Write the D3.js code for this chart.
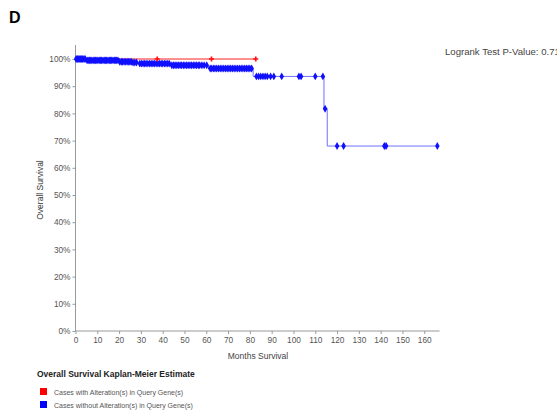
<!DOCTYPE html>
<html>
<head>
<meta charset="utf-8">
<script src="https://cdn.jsdelivr.net/npm/d3@7"></script>
<style>
  body { margin: 0; background: #fff; overflow: hidden; }
  svg { font-family: "Liberation Sans", Arial, sans-serif; }
</style>
</head>
<body>
<div id="chart"></div>
<script>
// survival steps (months, survival fraction)
const blueTimes = [0, 5, 20, 26, 29, 43.5, 61, 81.5, 114, 115.5];
const blueSurv  = [1.0, 0.995, 0.99, 0.987, 0.983, 0.977, 0.965, 0.936, 0.817, 0.68];
const blueCensor = [0.3, 0.8, 1.2, 1.7, 2.2, 2.8, 3.3, 3.9, 4.4, 5.3, 5.8, 6.4, 7, 7.5, 8.1, 8.6,
  9.2, 9.8, 10.3, 10.9, 11.5, 12, 12.6, 13.2, 13.8, 14.3, 14.9, 15.5, 16, 16.6, 17.2, 17.8, 18.3,
  18.9, 19.5, 20.3, 21, 21.6, 22.3, 23, 23.7, 24.4, 25, 25.6, 26.4, 27.2, 28, 29.5, 30.2, 31,
  31.7, 32.4, 33.2, 34, 34.7, 35.5, 36.2, 37, 37.8, 38.5, 39.3, 40, 40.8, 41.5, 42.3, 43,
  44.2, 45, 45.7, 46.5, 47.2, 48, 48.7, 49.5, 50.2, 51, 51.7, 52.5, 53.2, 54, 54.8, 55.5,
  56.3, 57, 58, 59, 60.2, 61.8, 62.5, 63.3, 64, 64.8, 65.6, 66.4, 67.2, 68, 68.8, 69.6,
  70.4, 71.2, 72, 72.8, 73.6, 74.4, 75.2, 76, 76.8, 77.6, 78.4, 79.2, 80, 80.8,
  83, 84, 85, 86, 87, 88, 89.5, 91, 94.6, 102.5, 103.5, 110, 113.5, 114.5, 120, 123, 141.7, 142.5, 166];
const redTimes = [0];
const redSurv = [1.0];
const redEnd = 82.7;
const redCensor = [37.5, 62.4, 82.7];

const xTicks = d3.range(0, 161, 10);
const yTicks = d3.range(0, 1.01, 0.1);

const W = 557, H = 412;
const svg = d3.select("#chart").append("svg").attr("width", W).attr("height", H);

const x = d3.scaleLinear().domain([0, 167]).range([75.5, 439.5]);
const y = d3.scaleLinear().domain([0, 1]).range([331, 59]);

function survAt(times, surv, t) {
  let s = surv[0];
  for (let i = 0; i < times.length; i++) if (times[i] <= t) s = surv[i];
  return s;
}

function stepPoints(times, surv, end) {
  const pts = [];
  for (let i = 0; i < times.length; i++) {
    if (i > 0) pts.push([times[i], surv[i - 1]]);
    pts.push([times[i], surv[i]]);
  }
  pts.push([end, surv[surv.length - 1]]);
  return pts;
}

const line = d3.line().x(d => x(d[0])).y(d => y(d[1]));

// axes
const gx = svg.append("g").attr("transform", "translate(0,331)")
  .call(d3.axisBottom(x).tickValues(xTicks).tickSize(3).tickPadding(3));
const gy = svg.append("g").attr("transform", "translate(75.5,0)")
  .call(d3.axisLeft(y).tickValues(yTicks).tickSize(3).tickPadding(2).tickFormat(d => Math.round(d * 100) + "%"));
gy.select(".domain").attr("d", "M0,45V331");
gx.select(".domain").attr("d", "M75.5,0H439.5");
[gx, gy].forEach(g => {
  g.selectAll(".domain, .tick line").attr("stroke", "#999");
  g.selectAll("text").attr("fill", "#555").style("font-size", "8.3px");
});

// red curve
svg.append("path").datum(stepPoints(redTimes, redSurv, redEnd))
  .attr("d", line).attr("fill", "none").attr("stroke", "#ff2020").attr("stroke-width", 1);

// blue curve
svg.append("path").datum(stepPoints(blueTimes, blueSurv, 166))
  .attr("d", line).attr("fill", "none").attr("stroke", "#7070ff").attr("stroke-width", 1);

svg.selectAll(".bc").data(blueCensor).enter().append("path")
  .attr("class", "bc")
  .attr("transform", d => `translate(${x(d)},${y(survAt(blueTimes, blueSurv, d))})`)
  .attr("d", d3.symbol().type(d3.symbolDiamond).size(18))
  .attr("fill", "#1010ff");

svg.selectAll(".rc").data(redCensor).enter().append("path")
  .attr("class", "rc")
  .attr("transform", d => `translate(${x(d)},${y(survAt(redTimes, redSurv, d))})`)
  .attr("d", d3.symbol().type(d3.symbolCross).size(14))
  .attr("fill", "#ff1010");

// texts
svg.append("text").attr("x", 9).attr("y", 23).text("D")
  .style("font-size", "16px").style("font-weight", "bold").attr("fill", "#000");

svg.append("text").attr("x", 445).attr("y", 55).text("Logrank Test P-Value: 0.711")
  .style("font-size", "9.6px").attr("fill", "#444");

svg.append("text").attr("transform", "translate(43,190) rotate(-90)")
  .attr("text-anchor", "middle").text("Overall Survival")
  .style("font-size", "8.5px").attr("fill", "#333");

svg.append("text").attr("x", 258).attr("y", 359).attr("text-anchor", "middle")
  .text("Months Survival").style("font-size", "8.5px").attr("fill", "#444");

// legend
svg.append("text").attr("x", 37).attr("y", 377).text("Overall Survival Kaplan-Meier Estimate")
  .style("font-size", "8.5px").style("font-weight", "bold").attr("fill", "#222");

const legend = [
  { label: "Cases with Alteration(s) in Query Gene(s)", color: "#ff0000" },
  { label: "Cases without Alteration(s) in Query Gene(s)", color: "#0000ff" }
];
const lg = svg.selectAll(".lg").data(legend).enter().append("g")
  .attr("transform", (d, i) => `translate(40,${388 + i * 13})`);
lg.append("rect").attr("width", 7).attr("height", 7).attr("fill", d => d.color);
lg.append("text").attr("x", 14).attr("y", 6.5).text(d => d.label)
  .style("font-size", "7px").attr("fill", "#555");
</script>
</body>
</html>
